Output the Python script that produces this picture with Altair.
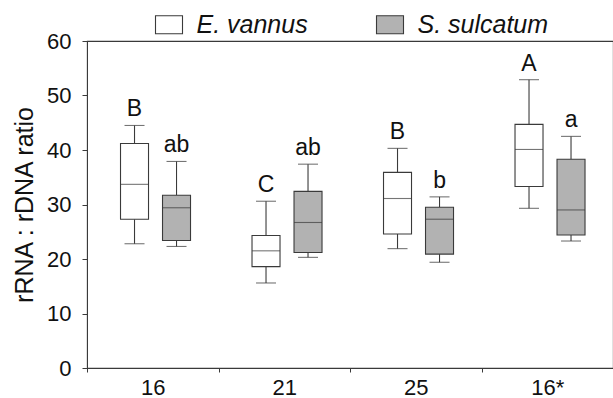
import altair as alt
import pandas as pd

groups = ["16", "21", "25", "16*"]
species = ["E. vannus", "S. sulcatum"]

e_min = [22.8, 15.6, 21.9, 29.3]
e_q1 = [27.3, 18.6, 24.6, 33.3]
e_med = [33.7, 21.5, 31.1, 40.1]
e_q3 = [41.2, 24.3, 35.9, 44.7]
e_max = [44.5, 30.6, 40.3, 52.9]
e_letters = ["B", "C", "B", "A"]

s_min = [22.3, 20.3, 19.4, 23.3]
s_q1 = [23.4, 21.2, 20.9, 24.4]
s_med = [29.4, 26.7, 27.3, 29.0]
s_q3 = [31.7, 32.4, 29.5, 38.3]
s_max = [37.9, 37.4, 31.4, 42.5]
s_letters = ["ab", "ab", "b", "a"]

rows = []
for i, g in enumerate(groups):
    rows.append(dict(group=g, species=species[0], lo=e_min[i], q1=e_q1[i], med=e_med[i],
                     q3=e_q3[i], hi=e_max[i], letter=e_letters[i]))
    rows.append(dict(group=g, species=species[1], lo=s_min[i], q1=s_q1[i], med=s_med[i],
                     q3=s_q3[i], hi=s_max[i], letter=s_letters[i]))
df = pd.DataFrame(rows)

FONT = "Liberation Sans"
LINE = "#3a3a3a"

x = alt.X("group:N", sort=groups,
          scale=alt.Scale(paddingInner=0, paddingOuter=0),
          axis=alt.Axis(title=None, labelAngle=0, tickBand="extent", tickSize=4,
                        labelPadding=5, labelFontSize=22, labelFont=FONT,
                        labelColor="#111", domainColor=LINE, tickColor=LINE))
xo = alt.XOffset("species:N", sort=species,
                 scale=alt.Scale(paddingInner=1/3, paddingOuter=0.732, align=0.545))
yscale = alt.Scale(domain=[0, 60], nice=False)
yaxis = alt.Axis(title="rRNA : rDNA ratio", values=[0, 10, 20, 30, 40, 50, 60], grid=False,
                 tickSize=5, labelPadding=11, labelFontSize=22, labelFont=FONT,
                 labelColor="#111", domainColor=LINE, tickColor=LINE,
                 titleFont=FONT, titleFontSize=25, titleFontWeight="normal",
                 titleColor="#111", titleX=-63, titleY=163.5, titleAngle=-90,
                 titleAlign="center", titleBaseline="middle")

base = alt.Chart(df)

whisk_lo = base.mark_rule(color=LINE, strokeWidth=1.1).encode(
    x=x, xOffset=xo, y=alt.Y("lo:Q", scale=yscale, axis=yaxis), y2="q1:Q")
whisk_hi = base.mark_rule(color=LINE, strokeWidth=1.1).encode(
    x=x, xOffset=xo, y=alt.Y("q3:Q", scale=yscale, axis=yaxis), y2="hi:Q")
cap_lo = base.mark_tick(color=LINE, size=20, thickness=1.1).encode(
    x=x, xOffset=xo, y=alt.Y("lo:Q", scale=yscale, axis=yaxis))
cap_hi = base.mark_tick(color=LINE, size=20, thickness=1.1).encode(
    x=x, xOffset=xo, y=alt.Y("hi:Q", scale=yscale, axis=yaxis))
box = base.mark_bar(stroke=LINE, strokeWidth=1.1).encode(
    x=x, xOffset=xo, y=alt.Y("q1:Q", scale=yscale, axis=yaxis), y2="q3:Q",
    fill=alt.Fill("species:N", sort=species,
                  scale=alt.Scale(domain=species, range=["#ffffff", "#b2b2b2"]),
                  legend=alt.Legend(orient="none", legendX=69.5, legendY=-29,
                                    direction="horizontal", title=None, padding=0,
                                    symbolType="M-1.5,-1L1.5,-1L1.5,1L-1.5,1Z",
                                    symbolSize=324, symbolStrokeColor=LINE,
                                    symbolStrokeWidth=1.1, labelOffset=15,
                                    columnPadding=65, labelFont=FONT,
                                    labelFontSize=25, labelFontStyle="italic",
                                    labelColor="#111")))
med = base.mark_tick(color=LINE, size=28, thickness=1.1).encode(
    x=x, xOffset=xo, y=alt.Y("med:Q", scale=yscale, axis=yaxis))
letters = base.mark_text(font=FONT, fontSize=23, color="#111", baseline="alphabetic",
                         dy=-9).encode(
    x=x, xOffset=xo, y=alt.Y("hi:Q", scale=yscale, axis=yaxis), text="letter:N")

chart = alt.layer(whisk_lo, whisk_hi, box, cap_lo, cap_hi, med, letters).properties(
    width=526, height=327,
    padding={"left": 87, "top": 41, "right": 0, "bottom": 30},
    autosize=alt.AutoSizeParams(type="none"),
).configure_view(stroke=LINE, strokeWidth=1.1)

chart.save("out.html", embed_options={"renderer": "svg", "actions": False})
